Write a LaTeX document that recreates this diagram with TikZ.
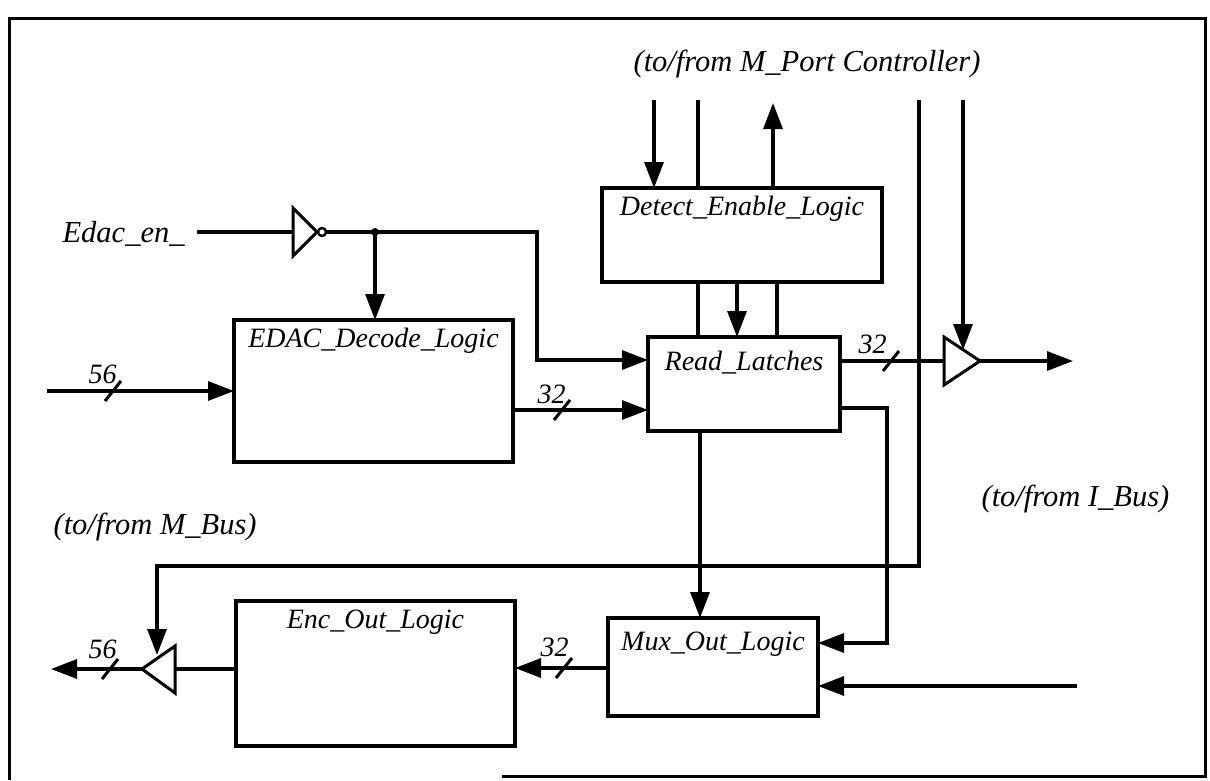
\documentclass[tikz,border=0pt]{standalone}
\usepackage{fontspec}
\setmainfont{Liberation Serif}
\usetikzlibrary{arrows.meta}
\begin{document}
\begin{tikzpicture}[x=1pt,y=-1pt, line width=3.2pt, line join=miter,
  box/.style={draw, line width=3.6pt, rectangle, inner sep=0pt, outer sep=0pt, anchor=north west},
  lbl/.style={font=\fontsize{28}{30}\selectfont\itshape, inner sep=0pt},
  olbl/.style={font=\fontsize{30.5}{32}\selectfont\itshape, inner sep=0pt},
  arr/.style={-{Triangle[length=26pt,width=19pt]}},
  gate/.style={draw, line width=3pt},
  bus/.pic={\draw[line width=3pt] (-8,10) -- (8,-10);}
  ]
\useasboundingbox (0,0) rectangle (1210,780);
% frame
\draw[line width=3pt] (9,780) -- (9,18) -- (1205,18) -- (1205,776) -- (502,776);

% boxes
\node[box, minimum width=279pt, minimum height=142pt] (edac) at (234,320) {};
\node[box, minimum width=280pt, minimum height=94pt] (det) at (602,188) {};
\node[box, minimum width=192pt, minimum height=94pt] (rl) at (648,337) {};
\node[box, minimum width=279pt, minimum height=145pt] (enc) at (236,601) {};
\node[box, minimum width=210pt, minimum height=98pt] (mux) at (608,618) {};

% box labels
\node[lbl, anchor=base] (edacl) at (edac.north |- 0,347) {EDAC\_Decode\_Logic};
\node[lbl, anchor=base] (detl) at (det.north |- 0,215) {Detect\_Enable\_Logic};
\node[lbl, anchor=base] (rll) at (rl.north |- 0,370) {Read\_Latches};
\node[lbl, anchor=base] (encl) at (enc.north |- 0,628) {Enc\_Out\_Logic};
\node[lbl, anchor=base] (muxl) at (mux.north |- 0,650) {Mux\_Out\_Logic};

% outer labels
\node[olbl, anchor=base] (mport) at (807,71) {(to/from M\_Port Controller)};
\node[olbl, anchor=base west] (mbus) at (52,534) {(to/from M\_Bus)};
\node[olbl, anchor=base west] (ibus) at (980,506) {(to/from I\_Bus)};
\node[olbl, anchor=base west] (en) at (61,242) {Edac\_en\_};

% bus widths
\node[lbl, anchor=base west] (n56a) at (87,383) {56};
\node[lbl, anchor=base west] (n32a) at (536,403) {32};
\node[lbl, anchor=base west] (n32b) at (857,353) {32};
\node[lbl, anchor=base west] (n32c) at (539,656) {32};
\node[lbl, anchor=base west] (n56b) at (87,658) {56};

% coordinates
\coordinate (eni) at (197,232);
\coordinate (invin) at (293,232);
\coordinate (invout) at (326,232);
\coordinate (dot) at (375,232);
\coordinate (tri1in) at (944,361);
\coordinate (tri1out) at (980,361);
\coordinate (tri2in) at (175,669);
\coordinate (tri2out) at (142,669);
\coordinate (m56) at (47,391);
\coordinate (t1) at (654,100);
\coordinate (t2) at (698,100);
\coordinate (t3) at (773,103);
\coordinate (t4) at (919,100);
\coordinate (t5) at (963,100);
\coordinate (iout) at (1073,361);
\coordinate (iin) at (1077,686);
\coordinate (mout) at (51,669);

% gates
\draw[gate] (293,208) -- (317,232) -- (293,256) -- cycle;
\draw[line width=2.4pt] (322,232) circle (4pt);
\draw[gate] (944,337) -- (980,361) -- (944,385) -- cycle;
\draw[gate] (175,646) -- (142,669) -- (175,693) -- cycle;
\fill (dot) circle (4pt);

% connectors
\draw (eni) -- (invin);
\draw[arr] (invout) -- (dot) -- (537,232) -- (537,360) -- (rl.west |- 0,360);
\draw[arr] (dot) -- (dot |- edac.north);
\draw[arr] (m56) -- (edac.west |- m56);
\draw[arr] (edac.east |- 0,410) -- (rl.west |- 0,410);

\draw[arr] (t1) -- (t1 |- det.north);
\draw (t2) -- (t2 |- det.north);
\draw[arr] (t3 |- det.north) -- (t3);

\draw (det.south -| 698,0) -- (rl.north -| 698,0);
\draw[arr] (det.south -| 737,0) -- (rl.north -| 737,0);
\draw (det.south -| 777,0) -- (rl.north -| 777,0);

\draw (rl.east |- tri1in) -- (tri1in);
\draw[arr] (tri1out) -- (iout);
\draw[arr] (t5) -- (963,350);
\draw[arr] (t4) -- (919,566) -- (157,566) -- (157,655);

\draw[arr] (rl.east |- 0,408) -- (887,408) -- (887,643) -- (mux.east |- 0,643);
\draw[arr] (rl.south -| 700,0) -- (mux.north -| 700,0);
\draw[arr] (iin) -- (mux.east |- iin);
\draw[arr] (mux.west |- 0,668) -- (enc.east |- 0,668);
\draw (enc.west |- tri2in) -- (tri2in);
\draw[arr] (tri2out) -- (mout);

% bus slashes
\pic at (113,391) {bus};
\pic at (562,410) {bus};
\pic at (891,361) {bus};
\pic at (564,668) {bus};
\pic at (110,669) {bus};
\end{tikzpicture}
\end{document}
